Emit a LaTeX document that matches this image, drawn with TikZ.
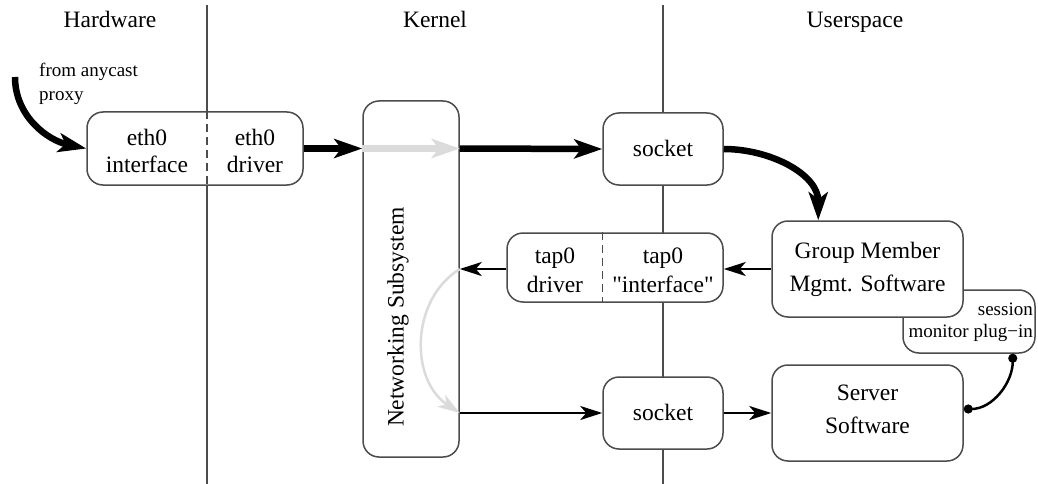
\documentclass[tikz,border=0pt]{standalone}
\usepackage{fontspec}
\newfontfamily\tnr{Liberation Serif}
\usetikzlibrary{arrows.meta}
\begin{document}
\begin{tikzpicture}[x=1pt,y=-1pt,
  txt/.style={font=\tnr\fontsize{23.5}{28}\selectfont, inner sep=0pt, anchor=base},
  smalltxt/.style={font=\tnr\fontsize{19}{23}\selectfont, inner sep=0pt},
  box/.style={draw=black!70, line width=1.5pt, fill=white, rounded corners=16pt, inner sep=0pt},
  sepline/.style={draw=black!70, line width=1.3pt},
  divider/.style={draw=black!70, line width=1.3pt, dash pattern=on 8pt off 5pt},
  bigarr/.style={line width=6.5pt, -{Stealth[length=28pt,width=19pt,inset=7pt]}},
  grayarr/.style={line width=6.5pt, draw=black!14, -{Stealth[length=28pt,width=19pt,inset=7pt]}},
  thinarr/.style={line width=2.5pt, -{Stealth[length=22pt,width=14pt,inset=6pt]}},
  graythin/.style={line width=2.5pt, draw=black!14, -{Stealth[length=22pt,width=14pt,inset=6pt]}},
  dotline/.style={line width=2.5pt, {Circle[length=9pt]}-{Circle[length=9pt]}}
]
\useasboundingbox (0,0) rectangle (1038,484);

% domain separators
\coordinate (l1top) at (207,5);
\coordinate (l1bot) at (207,484);
\coordinate (l2top) at (663,5);
\coordinate (l2bot) at (663,484);
\draw[sepline] (l1top) -- (l1bot);
\draw[sepline] (l2top) -- (l2bot);

% headers
\node[txt] (hw) at (110,28) {Hardware};
\node[txt] (kn) at (435,28) {Kernel};
\node[txt] (us) at (855,28) {Userspace};

% boxes
\node[box, minimum width=216pt, minimum height=73pt] (eth) at (195,148.5) {};
\node[box, minimum width=96pt, minimum height=356pt] (ns) at (411,279) {};
\node[box, minimum width=120pt, minimum height=72pt] (sock1) at (663,149) {};
\node[box, minimum width=216pt, minimum height=69pt] (tap) at (615,267.5) {};
\node[box, minimum width=132pt, minimum height=63pt] (sm) at (969,321.5) {};
\node[box, minimum width=191pt, minimum height=96pt] (gm) at (867.5,269) {};
\node[box, minimum width=120pt, minimum height=72pt] (sock2) at (663,413) {};
\node[box, minimum width=191pt, minimum height=96pt] (srv) at (867.5,413) {};

% dividers
\draw[divider] (l1top |- eth.north) -- (l1top |- eth.south);
\draw[divider] (sock1.west |- tap.north) -- (sock1.west |- tap.south);

% texts
\node[txt] (e1a) at (147,145) {eth0};
\node[txt] (e1b) at (147,172) {interface};
\node[txt] (e2a) at (255,145) {eth0};
\node[txt] (e2b) at (255,172) {driver};
\node[txt, rotate=90, anchor=center] (nst) at (398,317) {Networking Subsystem};
\node[txt] (s1t) at (663,156) {socket};
\node[txt] (t1a) at (555,263) {tap0};
\node[txt] (t1b) at (555,292) {driver};
\node[txt] (t2a) at (663,263) {tap0};
\node[txt] (t2b) at (663,292) {"interface"};
\node[txt] (g1) at (867.5,258) {Group Member};
\node[txt] (g2) at (867.5,291) {Mgmt. Software};
\node[txt] (s2t) at (663,420) {socket};
\node[txt] (v1) at (867.5,400) {Server};
\node[txt] (v2) at (867.5,433) {Software};
\node[smalltxt, anchor=base east] (sm1) at (1033,315) {session};
\node[smalltxt, anchor=base east] (sm2) at (1033,337) {monitor plug−in};
\node[smalltxt, anchor=base west] (fa1) at (39,77) {from anycast};
\node[smalltxt, anchor=base west] (fa2) at (39,101) {proxy};

% connectors
\coordinate (from) at (15,77);
\draw[bigarr] (from) to[out=-90,in=168] (eth.west);
\draw[bigarr] (eth.east) -- (ns.west |- eth.east);
\draw[grayarr] (ns.west |- eth.east) -- (ns.east |- eth.east);
\draw[bigarr] (ns.east |- eth.east) -- (sock1.west);
\draw[bigarr] (sock1.east) to[out=0,in=90] ([xshift=47pt]gm.north west);
\draw[thinarr] (gm.west) -- (tap.east |- gm.west);
\draw[thinarr] (tap.west |- gm.west) -- (ns.east |- gm.west);
\draw[graythin] (ns.east |- gm.west) .. controls (410,300) and (410,380) .. (ns.east |- sock2.west);
\draw[thinarr] (ns.east |- sock2.west) -- (sock2.west);
\draw[thinarr] (sock2.east) -- (srv.west);
\draw[dotline] ([xshift=-23pt]sm.south east) to[out=-90,in=0] ([yshift=4pt]srv.east);
\end{tikzpicture}
\end{document}
